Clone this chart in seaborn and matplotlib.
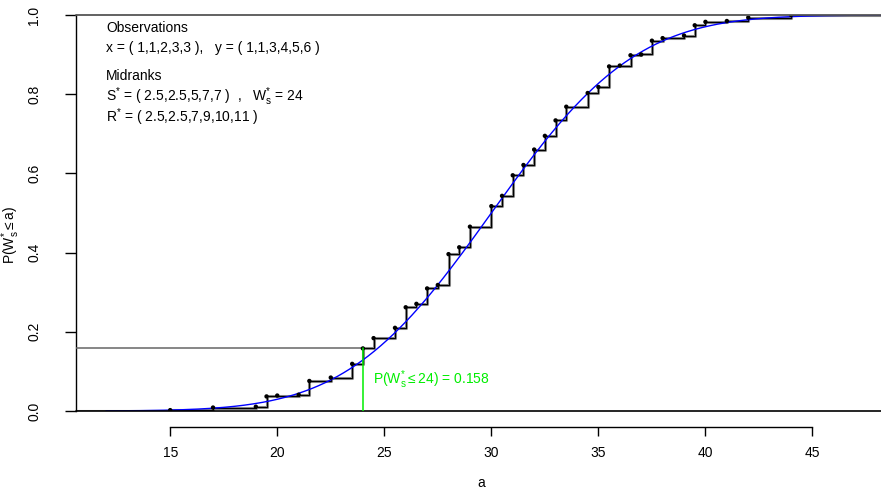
import numpy as np
import pandas as pd
import matplotlib
matplotlib.use("Agg")
import matplotlib.pyplot as plt
import seaborn as sns
from math import erf, sqrt

# ---- data ----
w_values = [15, 17, 19, 19.5, 20, 21, 21.5, 22.5, 23.5, 24, 24.5, 25.5, 26, 26.5,
            27, 27.5, 28, 28.5, 29, 30, 30.5, 31, 31.5, 32, 32.5, 33, 33.5, 34.5,
            35, 35.5, 36, 36.5, 37, 37.5, 38, 39, 39.5, 40, 41, 42, 44]
cdf_values = [0.0022, 0.0087, 0.0108, 0.0368, 0.0390, 0.0411, 0.0758, 0.0844,
              0.1190, 0.1580, 0.1840, 0.2100, 0.2619, 0.2706, 0.3095, 0.3182,
              0.3961, 0.4134, 0.4654, 0.5173, 0.5433, 0.5952, 0.6212, 0.6602,
              0.6948, 0.7338, 0.7684, 0.8030, 0.8182, 0.8701, 0.8723, 0.8983,
              0.9004, 0.9351, 0.9416, 0.9481, 0.9740, 0.9827, 0.9848, 0.9935, 1.0000]
normal_mean = 30.0
normal_sd = 5.30
observed_w = 24
observed_p = 0.158
x_ticks = [15, 20, 25, 30, 35, 40, 45]
y_ticks = [0.0, 0.2, 0.4, 0.6, 0.8, 1.0]

sns.set_theme(style="white")
plt.rcParams["font.family"] = ["Liberation Sans", "DejaVu Sans"]
plt.rcParams["mathtext.fontset"] = "custom"
plt.rcParams["mathtext.rm"] = "Liberation Sans"
plt.rcParams["mathtext.it"] = "Liberation Sans:italic"
plt.rcParams["text.color"] = "black"
plt.rcParams["axes.labelcolor"] = "black"
plt.rcParams["xtick.color"] = "black"
plt.rcParams["ytick.color"] = "black"

FS = 10
fig = plt.figure(figsize=(8.81, 4.90), dpi=100)
ax = fig.add_axes([76 / 881, 79 / 490, 1 - 76 / 881, 396 / 490])
xmin, xmax = 10.6, 48.2
ax.set_xlim(xmin, xmax)
ax.set_ylim(0, 1)

df = pd.DataFrame({"a": w_values, "F": cdf_values})
step_x = [xmin] + list(df["a"]) + [xmax]
step_y = [0.0] + list(df["F"]) + [1.0]
step_df = pd.DataFrame({"a": step_x, "F": step_y})

# gray under-layer and black step on top
sns.lineplot(data=step_df, x="a", y="F", drawstyle="steps-post", color="#858585",
             lw=2.2, ax=ax, estimator=None, sort=False)
sns.lineplot(data=step_df, x="a", y="F", drawstyle="steps-post", color="black",
             lw=0.75, ax=ax, estimator=None, sort=False)
sns.scatterplot(data=df, x="a", y="F", color="black", s=10, edgecolor="none",
                ax=ax, zorder=5)

# normal approximation
grid = np.linspace(12.0, xmax, 500)
norm_cdf = [0.5 * (1 + erf((g - normal_mean) / (normal_sd * sqrt(2)))) for g in grid]
sns.lineplot(x=grid, y=norm_cdf, color="blue", lw=1.0, ax=ax, zorder=4)

# reference lines
ax.axhline(0, color="black", lw=1.2, clip_on=False, zorder=6)
ax.axhline(1, color="#555555", lw=1.3, clip_on=False, zorder=6)
ax.plot([xmin, observed_w], [observed_p, observed_p], color="#666666", lw=1.1, zorder=3)
ax.plot([observed_w, observed_w], [0, observed_p], color="#00ee00", lw=1.1, zorder=6)
ax.text(24.45, 0.078, r"P(W$^{*}_{\mathrm{s}}$$\leq$24) = 0.158", color="#00ee00",
        fontsize=FS, va="center", ha="left")

# info text
tx = 12.0
ax.text(tx, 0.967, "Observations", fontsize=FS, va="center")
ax.text(tx, 0.917, "x = ( 1,1,2,3,3 ),   y = ( 1,1,3,4,5,6 )", fontsize=FS, va="center")
ax.text(tx, 0.847, "Midranks", fontsize=FS, va="center")
ax.text(tx, 0.793, r"S$^{*}$ = ( 2.5,2.5,5,7,7 )  ,   W$^{*}_{\mathrm{s}}$ = 24",
        fontsize=FS, va="center")
ax.text(tx, 0.742, r"R$^{*}$ = ( 2.5,2.5,7,9,10,11 )", fontsize=FS, va="center")

# axes styling (R-like)
for s in ["top", "right"]:
    ax.spines[s].set_visible(False)
ax.spines["left"].set_color("black")
ax.spines["left"].set_linewidth(1.0)
ax.spines["bottom"].set_color("black")
ax.spines["bottom"].set_linewidth(1.0)
ax.spines["bottom"].set_position(("outward", 11.5))
ax.spines["bottom"].set_bounds(15, 45)
ax.set_xticks(x_ticks)
ax.set_xticklabels([str(t) for t in x_ticks])
ax.set_yticks(y_ticks)
ax.set_yticklabels([f"{t:.1f}" for t in y_ticks], rotation=90, va="center")
ax.tick_params(axis="x", direction="out", length=6.5, width=1.0, color="black",
               labelcolor="black", labelsize=FS, bottom=True, pad=7)
ax.tick_params(axis="y", direction="out", length=8, width=1.0, color="black",
               labelcolor="black", labelsize=FS, left=True, pad=17)
ax.set_xlabel("")
ax.set_ylabel("")
fig.text(481 / 881, 0 / 490, "a", fontsize=FS, ha="center", va="bottom", color="black")
fig.text(11 / 881, (490 - 235) / 490, r"P(W$^{*}_{\mathrm{s}}$$\leq$a)", fontsize=FS,
         ha="center", va="center", rotation=90, color="black")
ax.grid(False)
ax.set_facecolor("white")
fig.patch.set_facecolor("white")

fig.savefig("out.png", dpi=100)
